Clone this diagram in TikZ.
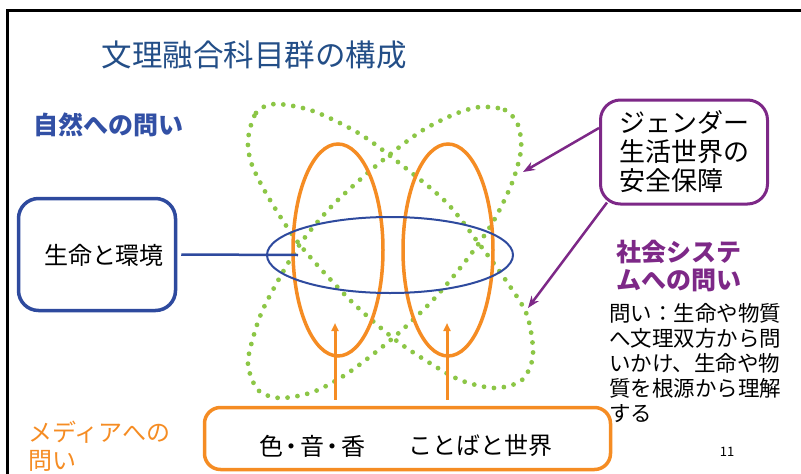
\documentclass[tikz,border=0pt]{standalone}
\usepackage{fontspec}
\setmainfont{Noto Sans CJK JP}
\usetikzlibrary{arrows.meta}
\definecolor{ttl}{RGB}{35,78,135}
\definecolor{bl}{RGB}{46,74,158}
\definecolor{blt}{RGB}{50,80,165}
\definecolor{org}{RGB}{245,140,35}
\definecolor{grn}{RGB}{140,198,70}
\definecolor{pur}{RGB}{125,40,135}
\tikzset{
  bluebox/.style={draw=bl, line width=3.5, rounded corners=20, minimum width=157, minimum height=112, inner sep=0},
  purbox/.style={draw=pur, line width=3, rounded corners=20, minimum width=167, minimum height=104, inner sep=0},
  orgbox/.style={draw=org, line width=3.5, rounded corners=16, minimum width=406, minimum height=62, inner sep=0},
  loop/.style={grn, line width=4.8, dash pattern=on 0pt off 10pt, line cap=round},
  orgell/.style={org, line width=3.5},
  blueell/.style={bl, line width=2},
  orgarrow/.style={org, line width=3, -{Triangle[length=8,width=7]}},
  purarrow/.style={pur, line width=2.5, -{Stealth[length=12,width=9]}},
  txt/.style={inner sep=0, text=black},
}
\begin{document}
\begin{tikzpicture}[x=1pt,y=-1pt]
\useasboundingbox (0,0) rectangle (801,474);
% frame
\draw[line width=3] (7,474) -- (7,10) -- (801,10);
% title
\node[txt, text=ttl, font=\fontsize{30.5}{36}\selectfont] (title) at (254,55) {文理融合科目群の構成};
\node[txt, text=blt, font=\bfseries\fontsize{25}{30}\selectfont, anchor=west] (nature) at (33,125) {自然への問い};
% green loops
\draw[loop] plot[smooth cycle] coordinates {(248,140) (256,113) (275,104) (313,111) (360,134) (403,166) (447,203) (480,245) (507,282) (527,315) (533,355) (522,380) (495,388) (460,380) (425,360) (393,338) (350,300) (300,245) (270,200) (252,165)};
\draw[loop] plot[smooth cycle] coordinates {(480,107) (505,110) (518,125) (521,150) (512,183) (493,222) (468,258) (433,300) (393,338) (348,373) (313,392) (280,398) (258,390) (248,365) (253,338) (265,305) (298,247) (330,208) (363,177) (393,152) (423,130) (455,114)};
% orange ellipses
\draw[orgell] (338,250) ellipse [x radius=45, y radius=106];
\draw[orgell] (448,250) ellipse [x radius=45, y radius=106];
% blue ellipse
\draw[blueell] (390,255) ellipse [x radius=123, y radius=38];
% life box
\node[bluebox] (lifebox) at (97,254.5) {};
\node[txt, font=\fontsize{24}{28}\selectfont] (life) at (104,255) {生命と環境};
\coordinate (lifeend) at (298,255);
\draw[bl, line width=2.5] ([xshift=4pt]lifebox.east) -- (lifeend);
% gender box
\node[purbox, txt, align=left, font=\fontsize{26}{29}\selectfont] (gender) at (684,152) {ジェンダー\\生活世界の\\安全保障};
\coordinate (g1) at (523,172);
\coordinate (g2) at (528,308);
\draw[purarrow] ([yshift=24pt]gender.west) -- (g1);
\draw[purarrow] ([xshift=8pt,yshift=3pt]gender.south west) -- (g2);
% social system
\node[txt, text=pur, font=\bfseries\fontsize{25}{28}\selectfont, align=left, anchor=west] (social) at (616,266) {社会システ\\ムへの問い};
\node[txt, font=\fontsize{21.5}{25}\selectfont, align=left, anchor=west] (question) at (609,363) {問い：生命や物質\\へ文理双方から問\\いかけ、生命や物\\質を根源から理解\\する};
% media box
\node[orgbox] (mediabox) at (407.5,438.5) {};
\node[txt, font=\fontsize{24}{28}\selectfont, anchor=west] (media1) at (259,446) {色\makebox[17pt][c]{・}音\makebox[17pt][c]{・}香};
\node[txt, font=\fontsize{24}{28}\selectfont, anchor=west] (media2) at (408,446) {ことばと世界};
\coordinate (a1) at (335,323);
\coordinate (a2) at (447,323);
\draw[orgarrow] ([xshift=-72.5pt,yshift=6pt]mediabox.north) -- (a1);
\draw[orgarrow] ([xshift=39.5pt,yshift=6pt]mediabox.north) -- (a2);
\node[txt, text=org, font=\fontsize{24}{28}\selectfont, align=left, anchor=west] (mediaq) at (28,446) {メディアへの\\問い};
\node[txt, font=\fontsize{13}{15}\selectfont] (page) at (727,452) {11};
\end{tikzpicture}
\end{document}
